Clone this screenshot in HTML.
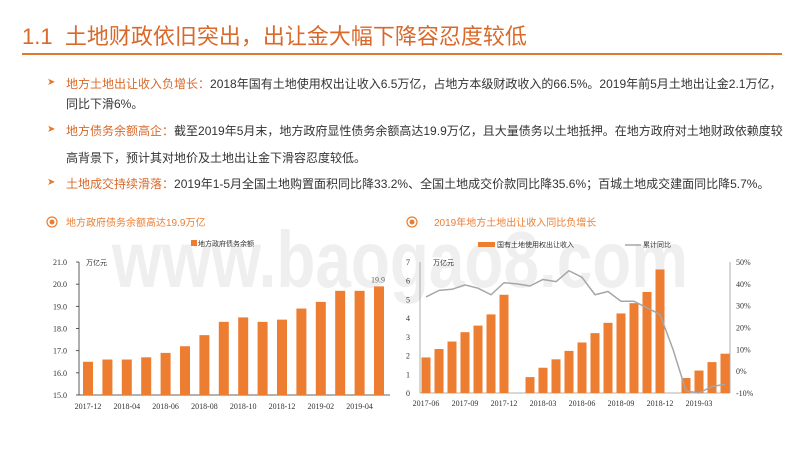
<!DOCTYPE html>
<html><head><meta charset="utf-8"><style>
body{margin:0;width:800px;height:450px;background:#fff;overflow:hidden;position:relative;font-family:"Liberation Sans","Noto Sans CJK SC",sans-serif}
.title{position:absolute;left:22px;top:24px;font-size:22px;line-height:26px;color:#D9692A;white-space:nowrap}
.rule{position:absolute;left:22px;top:53px;width:760px;height:2px;background:#E07A2C}
.b{position:absolute;left:66px;font-size:12px;color:#333;white-space:nowrap;line-height:14px}
.b .k{color:#D9692A}
.arr{position:absolute;left:47px;font-size:10px;color:#E07A2C}
svg{position:absolute;left:0;top:0}
</style></head><body>
<div class="title"><span style="font-family:'Liberation Sans'">1.1</span>&nbsp; 土地财政依旧突出，出让金大幅下降容忍度较低</div>
<div class="rule"></div>
<div class="arr" style="top:77px">➤</div>
<div class="b" style="top:77px"><span class="k">地方土地出让收入负增长：</span>2018年国有土地使用权出让收入6.5万亿，占地方本级财政收入的66.5%。2019年前5月土地出让金2.1万亿，</div>
<div class="b" style="top:97px">同比下滑6%。</div>
<div class="arr" style="top:124px">➤</div>
<div class="b" style="top:124px"><span class="k">地方债务余额高企：</span>截至2019年5月末，地方政府显性债务余额高达19.9万亿，且大量债务以土地抵押。在地方政府对土地财政依赖度较</div>
<div class="b" style="top:151px">高背景下，预计其对地价及土地出让金下滑容忍度较低。</div>
<div class="arr" style="top:177px">➤</div>
<div class="b" style="top:177px"><span class="k">土地成交持续滑落：</span>2019年1-5月全国土地购置面积同比降33.2%、全国土地成交价款同比降35.6%；百城土地成交建面同比降5.7%。</div>
<svg id="s" width="800" height="450" xmlns="http://www.w3.org/2000/svg">
<text x="112" y="287" font-size="80" font-weight="bold" fill="#efefef" textLength="576" lengthAdjust="spacingAndGlyphs" font-family="Liberation Sans,sans-serif">www.baogao8.com</text>
</svg>
<script>
const debtCats=["2017-12","2018-02","2018-04","2018-05","2018-06","2018-07","2018-08","2018-09","2018-10","2018-11","2018-12","2019-01","2019-02","2019-03","2019-04","2019-05"];
const debtVals=[16.5,16.6,16.6,16.7,16.9,17.2,17.7,18.3,18.5,18.3,18.4,18.9,19.2,19.7,19.7,19.9];
const debtTicks=[15,16,17,18,19,20,21];
const debtLabels=["2017-12","2018-04","2018-06","2018-08","2018-10","2018-12","2019-02","2019-04"];
const landCats=["2017-06","2017-07","2017-08","2017-09","2017-10","2017-11","2017-12","2018-01","2018-02","2018-03","2018-04","2018-05","2018-06","2018-07","2018-08","2018-09","2018-10","2018-11","2018-12","2019-01","2019-02","2019-03","2019-04","2019-05"];
const landVals=[1.9,2.35,2.75,3.25,3.6,4.2,5.25,null,0.85,1.35,1.8,2.25,2.7,3.2,3.75,4.25,4.8,5.4,6.6,null,0.8,1.2,1.65,2.1];
const yoyVals=[34,37,37.5,39.5,38,35,40.5,40,39,42,41,46,43,35,36.5,32,32,29,26,10,-9,-10,-7,-6];
const landTicksL=[0,1,2,3,4,5,6,7];
const landTicksR=[-10,0,10,20,30,40,50];
const NS="http://www.w3.org/2000/svg",s=document.getElementById('s');
function el(t,a,txt){const e=document.createElementNS(NS,t);for(const k in a)e.setAttribute(k,a[k]);if(txt!=null)e.textContent=txt;s.appendChild(e);return e;}
const OR="#ED7D31",SER="Liberation Serif,serif";
[[52,"地方政府债务余额高达19.9万亿",66],[412,"2019年地方土地出让收入同比负增长",434]].forEach((h,i)=>{
let c=el('circle',{cx:h[0],cy:222,r:5,fill:'none',stroke:OR,'stroke-width':1.2});

let d=el('circle',{cx:h[0],cy:222,r:2.5,fill:OR});

let t=el('text',{x:h[2],y:226,'font-size':10,fill:OR},h[1]);

});
const L={x0:79,x1:390,yTop:262,yBot:395,min:15,max:21};
const ly=v=>L.yBot-(v-L.min)/(L.max-L.min)*(L.yBot-L.yTop);
const lx=i=>88+i*19.4;
let ax=el('line',{x1:L.x0,y1:L.yTop,x2:L.x0,y2:L.yBot,stroke:'#333','stroke-width':0.8});

ax=el('line',{x1:L.x0,y1:L.yBot,x2:L.x1,y2:L.yBot,stroke:'#333','stroke-width':0.8});

debtTicks.forEach(v=>{let t=el('text',{x:67,y:ly(v)+3,'font-size':8,'text-anchor':'end','font-family':SER,fill:'#333'},v.toFixed(1));

let k=el('line',{x1:L.x0-3,y1:ly(v),x2:L.x0,y2:ly(v),stroke:'#333','stroke-width':0.8});
});
debtVals.forEach((v,i)=>{let b=el('rect',{x:lx(i)-5,y:ly(v),width:10,height:L.yBot-ly(v),fill:OR});

if(i%2==0){let t=el('text',{x:lx(i),y:409,'font-size':8,'text-anchor':'middle','font-family':SER,fill:'#333'},debtLabels[i/2]);
}});
let lab=el('text',{x:lx(debtVals.length-1)-8,y:ly(debtVals[debtVals.length-1])-4,'font-size':8,'font-family':SER,fill:'#666'},debtVals[debtVals.length-1].toFixed(1));

let u=el('text',{x:86,y:265,'font-size':7,fill:'#333'},'万亿元');
let lg=el('rect',{x:191,y:240,width:6,height:6,fill:OR});
lg=el('text',{x:198,y:246,'font-size':7,fill:'#333'},'地方政府债务余额');
const R={x0:420,x1:730,yTop:262,yBot:393};
const ry=v=>R.yBot-v/7*(R.yBot-R.yTop);
const py=v=>R.yBot-(v+10)/60*(R.yBot-R.yTop);
const rx=i=>426+i*13;
ax=el('line',{x1:R.x0,y1:R.yTop,x2:R.x0,y2:R.yBot,stroke:'#999','stroke-width':0.8});
ax=el('line',{x1:R.x1,y1:R.yTop,x2:R.x1,y2:R.yBot,stroke:'#999','stroke-width':0.8});
ax=el('line',{x1:R.x0,y1:R.yBot,x2:R.x1,y2:R.yBot,stroke:'#999','stroke-width':0.8});
landTicksL.forEach(v=>{let t=el('text',{x:410,y:ry(v)+3,'font-size':8,'text-anchor':'end','font-family':SER,fill:'#333'},v);
});
landTicksR.forEach(v=>{let t=el('text',{x:736,y:py(v)+3,'font-size':8,'font-family':SER,fill:'#333'},v+'%');
});
landVals.forEach((v,i)=>{if(v==null)return;let b=el('rect',{x:rx(i)-4.5,y:ry(v),width:9,height:R.yBot-ry(v),fill:OR});
});
landCats.forEach((c,i)=>{if(i%3)return;let t=el('text',{x:rx(i),y:406,'font-size':8,'text-anchor':'middle','font-family':SER,fill:'#333'},c);
});
let p=el('polyline',{points:yoyVals.map((v,i)=>rx(i)+','+py(v)).join(' '),fill:'none',stroke:'#A6A6A6','stroke-width':1.5,'stroke-linejoin':'round'});

u=el('text',{x:433,y:265,'font-size':7,fill:'#333'},'万亿元');
lg=el('rect',{x:478,y:242,width:17,height:5,fill:OR});
lg=el('text',{x:497,y:247,'font-size':7,fill:'#333'},'国有土地使用权出让收入');
lg=el('line',{x1:625,y1:245,x2:641,y2:245,stroke:'#A6A6A6','stroke-width':1.5});
lg=el('text',{x:643,y:247,'font-size':7,fill:'#333'},'累计同比');
</script>
</body></html>
